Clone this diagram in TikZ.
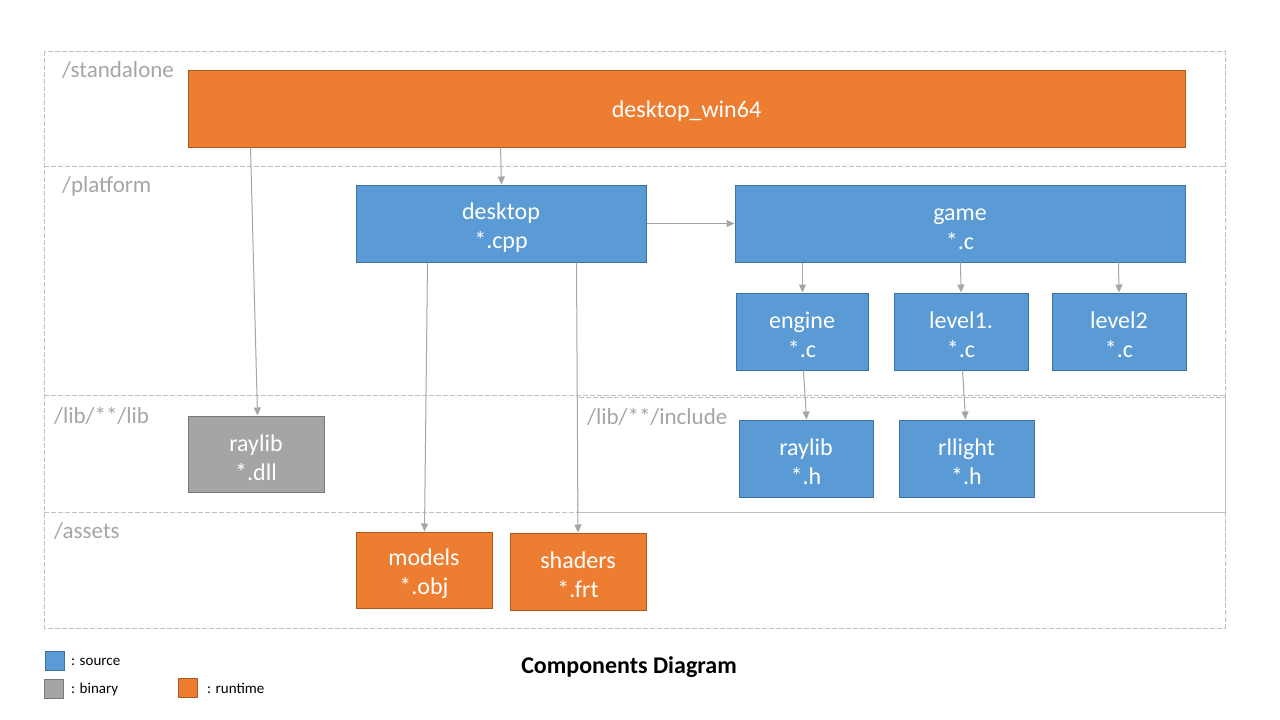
\documentclass[tikz,border=0pt]{standalone}
\usepackage{fontspec}
\setmainfont{Carlito}
\usetikzlibrary{arrows.meta}
\definecolor{srcfill}{HTML}{5B9BD5}
\definecolor{srcdraw}{HTML}{41719C}
\definecolor{runfill}{HTML}{ED7D31}
\definecolor{rundraw}{HTML}{AE5A21}
\definecolor{binfill}{HTML}{A5A5A5}
\definecolor{bindraw}{HTML}{787878}
\definecolor{lanecol}{HTML}{BFBFBF}
\definecolor{lanetext}{HTML}{A6A6A6}
\definecolor{arrcol}{HTML}{A6A6A6}
\newcommand\twol[2]{\rule{0pt}{24pt}#1\\#2}
\tikzset{
  box/.style={minimum width=#1, inner sep=0pt, minimum height=77pt, align=center,
    text=white, font=\fontsize{24}{29}\selectfont, line width=1pt},
  src/.style={box=#1, fill=srcfill, draw=srcdraw},
  run/.style={box=#1, fill=runfill, draw=rundraw},
  bin/.style={box=#1, fill=binfill, draw=bindraw},
  lane/.style={draw=lanecol, line width=0.9pt, dash pattern=on 5pt off 2pt},
  lanelabel/.style={anchor=base west, inner sep=0pt, text=lanetext, font=\fontsize{23}{28}\selectfont},
  arr/.style={draw=arrcol, line width=1pt, -{Triangle[length=8pt,width=7pt]}},
  legbox/.style={minimum width=19pt, minimum height=19pt, inner sep=0pt, line width=1pt},
  legtext/.style={anchor=base west, inner sep=0pt, font=\fontsize{15}{18}\selectfont},
}
\begin{document}
\begin{tikzpicture}[x=1pt,y=-1pt]
\useasboundingbox[fill=white] (0,0) rectangle (1280,720);
% lanes
\draw[lane] (44,51) rectangle (1225,628);
\draw[lane] (44,166) -- (1225,166);
\draw[lane] (44,395) -- (1225,395);
\draw[lane] (44,512) -- (1225,512);
\draw[lane] (577,397) rectangle (1225,512);
\node[lanelabel] (lstand) at (62,77) {/standalone};
\node[lanelabel] (lplat) at (62,192) {/platform};
\node[lanelabel] (llib) at (54,423) {/lib/**/lib};
\node[lanelabel] (linc) at (587,424) {/lib/**/include};
\node[lanelabel] (lass) at (54,538) {/assets};
% boxes
\node[run=997pt] (win64) at (686.5,108.5) {\rule{0pt}{21pt}desktop\_win64};
\node[src=290pt] (desktop) at (501,223.5) {\twol{desktop}{*.cpp}};
\node[src=450pt] (game) at (960,223.5) {\twol{game}{*.c}};
\node[src=132pt] (engine) at (802,331.5) {\twol{engine}{*.c}};
\node[src=134pt] (level1) at (961,331.5) {\twol{level1.}{*.c}};
\node[src=134pt] (level2) at (1119,331.5) {\twol{level2}{*.c}};
\node[bin=136pt, minimum height=76pt] (dll) at (256,454) {\twol{raylib}{*.dll}};
\node[src=134pt] (rayh) at (806,458.5) {\twol{raylib}{*.h}};
\node[src=135pt] (rllight) at (966.5,458.5) {\twol{rllight}{*.h}};
\node[run=136pt, minimum height=76pt] (models) at (424,570) {\twol{models}{*.obj}};
\node[run=136pt] (shaders) at (578,571.5) {\twol{shaders}{*.frt}};
% connectors
\draw[arr] ([xshift=63pt]win64.south west) -- ([xshift=70pt]dll.north west);
\draw[arr] ([xshift=313pt]win64.south west) -- ([xshift=146pt]desktop.north west);
\draw[arr] (desktop.east) -- (game.west);
\draw[arr] ([xshift=68pt]game.south west) -- ([xshift=67pt]engine.north west);
\draw[arr] ([xshift=226pt]game.south west) -- (level1.north);
\draw[arr] ([xshift=384pt]game.south west) -- (level2.north);
\draw[arr] ([xshift=68pt]engine.south west) -- ([xshift=68pt]rayh.north west);
\draw[arr] ([xshift=69pt]level1.south west) -- ([xshift=67pt]rllight.north west);
\draw[arr] ([xshift=72pt]desktop.south west) -- ([xshift=69pt]models.north west);
\draw[arr] ([xshift=221pt]desktop.south west) -- (shaders.north);
% legend
\node[legbox, fill=srcfill, draw=srcdraw] (legsrc) at (55,660.5) {};
\node[legbox, fill=binfill, draw=bindraw] (legbin) at (54,688.5) {};
\node[legbox, fill=runfill, draw=rundraw] (legrun) at (187.5,687.5) {};
\node[legtext] (tsrc) at (71,665) {: source};
\node[legtext] (tbin) at (71,693) {: binary};
\node[legtext] (trun) at (207,693) {: runtime};
\node[anchor=base, inner sep=0pt, font=\fontsize{24}{28}\selectfont\bfseries] (title) at (629,673) {Components Diagram};
\end{tikzpicture}
\end{document}
